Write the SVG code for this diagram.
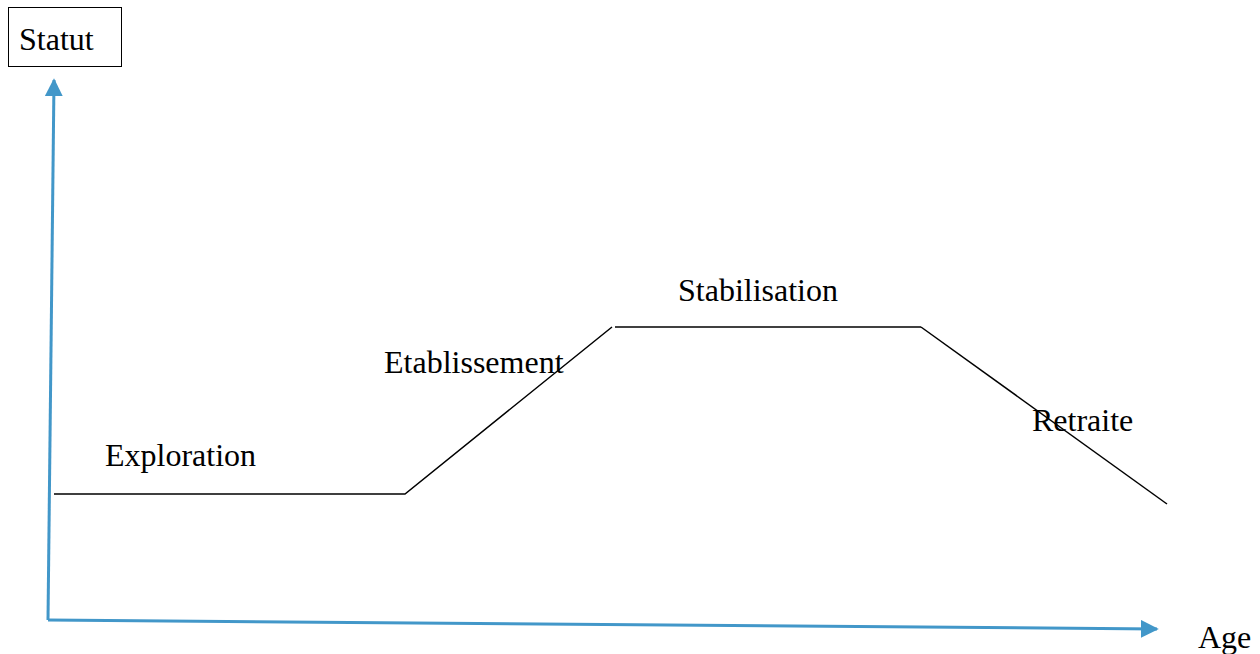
<svg xmlns="http://www.w3.org/2000/svg" width="1260" height="654" viewBox="0 0 1260 654">
<style>
text{font-family:"Liberation Serif","Times New Roman",serif;font-size:32px;fill:#000}
.axis{stroke:#4297c9;stroke-width:3;fill:none}
.curve{stroke:#000;stroke-width:1.5;fill:none}
</style>
<defs>
<marker id="ah" viewBox="0 0 10 10" refX="9" refY="5" markerWidth="6" markerHeight="6" markerUnits="strokeWidth" orient="auto">
<path d="M0,0 L10,5 L0,10 z" fill="#4297c9"/>
</marker>
</defs>
<rect width="1260" height="654" fill="#fff"/>
<g id="statut">
<rect x="8.5" y="7.5" width="113" height="59" fill="#fff" stroke="#000" stroke-width="1"/>
<text x="19" y="50">Statut</text>
</g>
<g id="connectors">
<line class="axis" x1="48" y1="620" x2="54" y2="80" marker-end="url(#ah)"/>
<line class="axis" x1="48" y1="620" x2="1157" y2="629" marker-end="url(#ah)"/>
<polyline class="curve" points="54,494 405,494 612,327"/>
<line class="curve" x1="615" y1="327" x2="921" y2="327"/>
<line class="curve" x1="921" y1="327" x2="1167" y2="504"/>
</g>
<g id="labels">
<text x="105" y="466">Exploration</text>
<text x="384" y="373">Etablissement</text>
<text x="678" y="301">Stabilisation</text>
<text x="1032" y="431">Retraite</text>
<text x="1198" y="648">Age</text>
</g>
</svg>
